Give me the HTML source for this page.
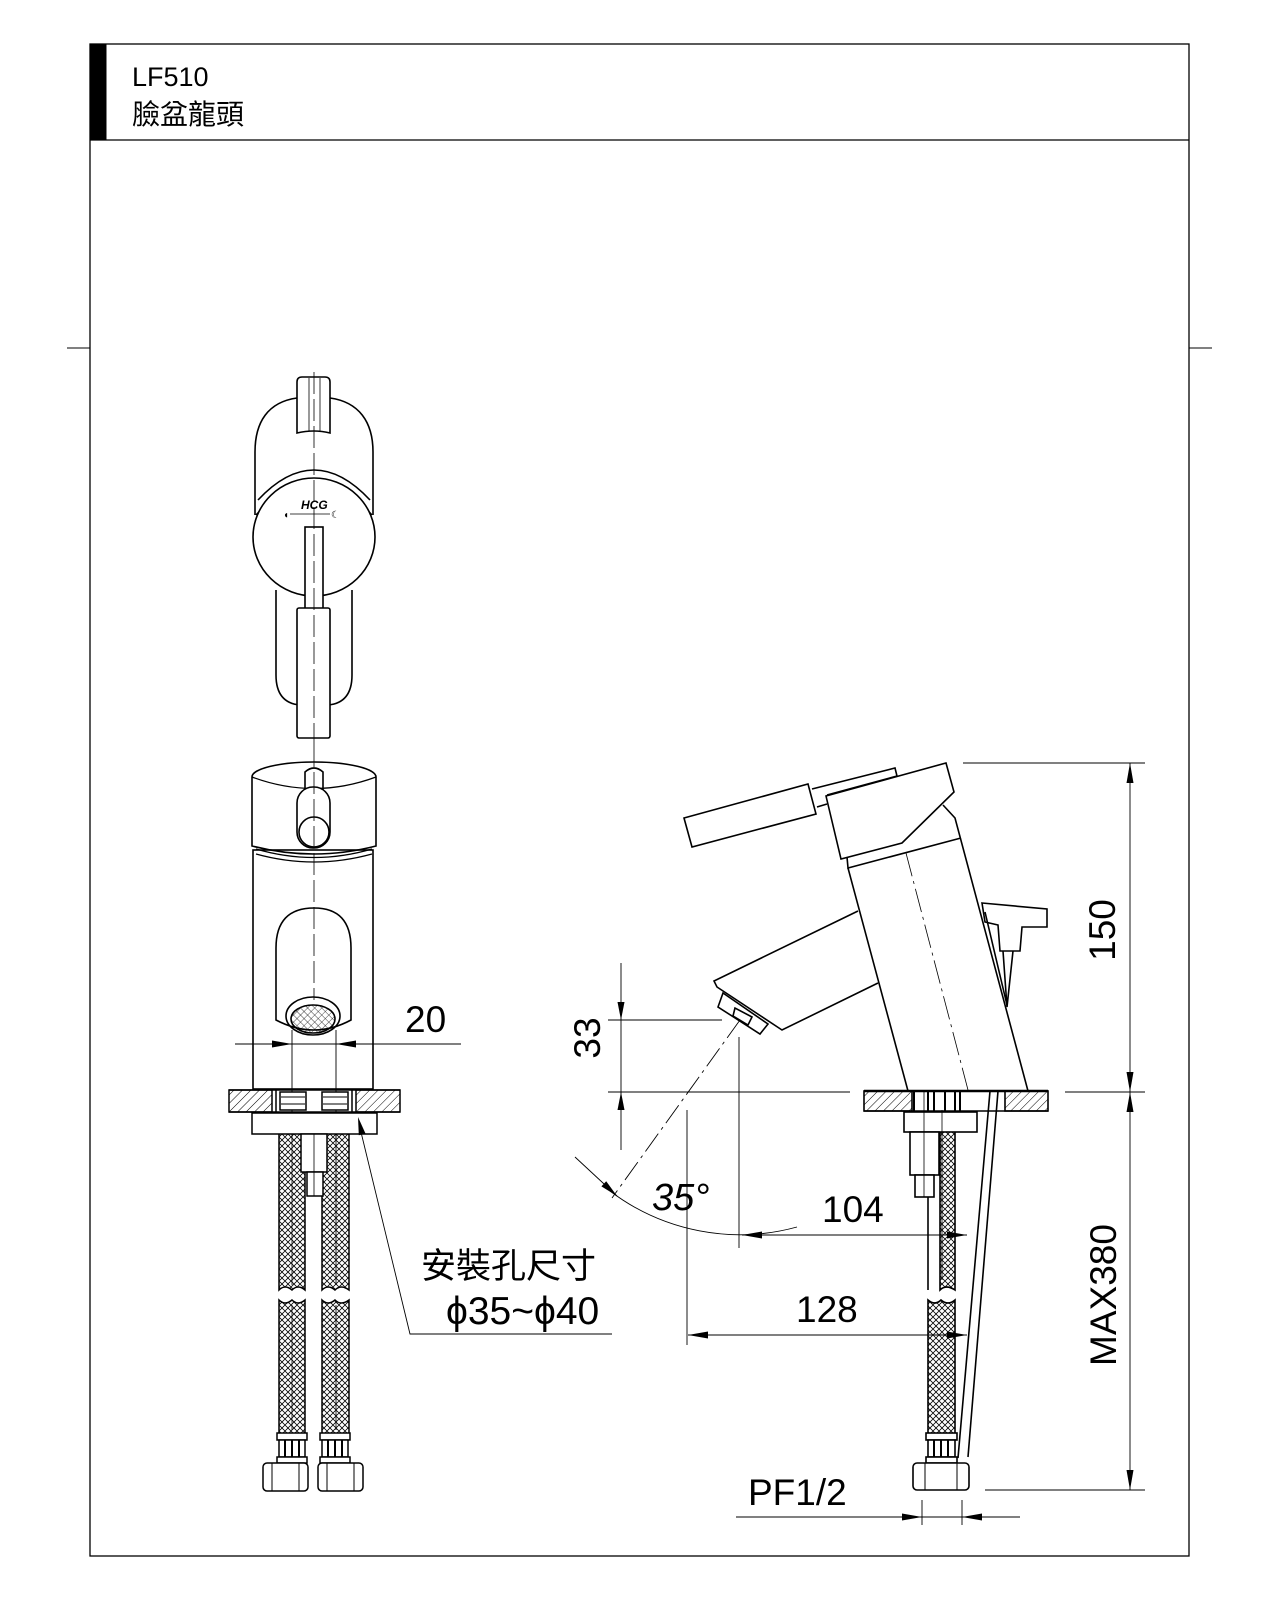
<!DOCTYPE html>
<html><head><meta charset="utf-8"><style>
html,body{margin:0;padding:0;background:#fff;}
svg{display:block;}
text{font-family:"Liberation Sans","Noto Sans CJK TC",sans-serif;fill:#000;}
</style></head><body>
<svg width="1280" height="1600" viewBox="0 0 1280 1600" xmlns="http://www.w3.org/2000/svg">
<defs>
<pattern id="hatch" patternUnits="userSpaceOnUse" width="6" height="6" patternTransform="rotate(45)">
<line x1="0" y1="0" x2="0" y2="6" stroke="#000" stroke-width="1"/></pattern>
<pattern id="cross" patternUnits="userSpaceOnUse" width="6" height="6">
<path d="M0,0 L3,3 L0,6 M6,0 L3,3 L6,6" stroke="#000" stroke-width="0.8" fill="none"/></pattern>
<pattern id="mesh" patternUnits="userSpaceOnUse" width="5" height="5" patternTransform="rotate(45)">
<path d="M0,0 L0,5 M0,0 L5,0" stroke="#000" stroke-width="0.7" fill="none"/></pattern>
</defs>
<g fill="none" stroke="#000">
<rect x="90" y="44" width="1099" height="1512" stroke-width="1.3"/>
<line x1="90" y1="140" x2="1189" y2="140" stroke-width="1.3"/>
<rect x="90" y="44" width="16" height="96" fill="#000"/>
<line x1="67" y1="348" x2="90" y2="348"/>
<line x1="1189" y1="348" x2="1212" y2="348"/>
</g>
<text x="132" y="86" font-size="27">LF510</text>
<text x="132" y="124" font-size="28">臉盆龍頭</text>

<!-- LEFT TOP VIEW -->
<g fill="none" stroke="#000" stroke-width="1.6">
<path d="M297,398 C268,402 255,422 255,452 L255,515"/>
<path d="M330,398 C359,402 373,422 373,452 L373,515"/>
<path d="M297,433 L297,382 Q297,377 302,377 L325,377 Q330,377 330,382 L330,433 Q314,429 297,433Z" fill="#fff"/>
<line x1="309" y1="378" x2="309" y2="431" stroke-width="0.8"/>
<line x1="320" y1="378" x2="320" y2="431" stroke-width="0.8"/>
<path d="M276,590 L276,675 Q276,703 300,705 M352,590 L352,675 Q352,703 328,705"/>
<path d="M258,500 Q314,440 370,500"/>
<path d="M256,515 Q314,452 372,515"/>
<ellipse cx="314" cy="537" rx="61" ry="59" fill="#fff"/>
<rect x="305" y="527" width="18" height="84" fill="#fff"/>
<rect x="297" y="608" width="33" height="130" rx="2" fill="#fff"/>
<line x1="290" y1="514" x2="330" y2="514" stroke-width="0.8"/>
<line x1="314" y1="372" x2="314" y2="745" stroke-width="0.8" stroke-dasharray="22,5"/>
</g>
<text x="301" y="509" font-size="12" font-style="italic" font-weight="bold">HCG</text>
<text x="283" y="518" font-size="10">◖</text><text x="331" y="518" font-size="10">☾</text>

<!-- LEFT FRONT VIEW -->
<g fill="none" stroke="#000" stroke-width="1.6">
<path d="M252,777 A62,15 0 0 1 376,777 L376,846 Q314,862 252,846 Z" fill="#fff"/>
<path d="M252,777 Q314,800 376,777" stroke-width="1.2"/>
<path d="M256,849 Q314,866 372,849 M256,854 Q314,870 372,854" stroke-width="1.2"/>
<rect x="253" y="850" width="120" height="239"/>
<path d="M305,792 L305,772 Q314,764 323,772 L323,792"/>
<rect x="297" y="787" width="33" height="61" rx="16" fill="#fff"/>
<circle cx="314" cy="832" r="15"/>
<path d="M276,1020 L276,948 Q276,908 314,908 Q351,908 351,948 L351,1020 Q314,1040 276,1020Z" fill="#fff"/>
<ellipse cx="313" cy="1016" rx="27" ry="19"/>
<ellipse cx="313" cy="1019" rx="22" ry="14" fill="url(#mesh)"/>
<line x1="314" y1="745" x2="314" y2="1000" stroke-width="0.8" stroke-dasharray="22,5"/>
</g>
<g stroke="#000" stroke-width="0.9" fill="none">
<line x1="292" y1="1030" x2="292" y2="1140"/>
<line x1="336" y1="1030" x2="336" y2="1140"/>
<line x1="235" y1="1044" x2="461" y2="1044"/>
</g>
<polygon points="292,1044 272,1040.5 272,1047.5" fill="#000"/>
<polygon points="336,1044 356,1040.5 356,1047.5" fill="#000"/>
<text x="405" y="1032" font-size="37">20</text>
<g stroke="#000" stroke-width="1.5">
<rect x="229" y="1090" width="43" height="22" fill="url(#hatch)"/>
<rect x="356" y="1090" width="44" height="22" fill="url(#hatch)"/>
<line x1="229" y1="1090" x2="400" y2="1090"/>
<line x1="229" y1="1112" x2="400" y2="1112"/>
<rect x="280" y="1092" width="26" height="18" fill="#fff"/>
<rect x="322" y="1092" width="26" height="18" fill="#fff"/>
<path d="M281,1097 H305 M281,1104 H305 M323,1097 H347 M323,1104 H347" stroke-width="1"/>
<line x1="276" y1="1090" x2="276" y2="1112"/>
<line x1="352" y1="1090" x2="352" y2="1112"/>
<rect x="252" y="1113" width="125" height="21" fill="#fff"/>
<path d="M279,1134 V1290 Q285,1284 292,1290 Q298,1284 305,1290 V1134" fill="url(#cross)"/>
<path d="M322,1134 V1290 Q328,1284 335,1290 Q341,1284 349,1290 V1134" fill="url(#cross)"/>
<path d="M279,1433 V1300 Q285,1306 292,1300 Q298,1306 305,1300 V1433" fill="url(#cross)"/>
<path d="M322,1433 V1300 Q328,1306 335,1300 Q341,1306 349,1300 V1433" fill="url(#cross)"/>
<rect x="301" y="1134" width="26" height="38" fill="#fff"/>
<rect x="307" y="1172" width="16" height="24" fill="#fff"/>
<line x1="314" y1="1134" x2="314" y2="1196" stroke-width="0.8"/>
<line x1="292" y1="1134" x2="292" y2="1285" stroke-width="0.8"/>
<line x1="336" y1="1134" x2="336" y2="1285" stroke-width="0.8"/>
<line x1="292" y1="1305" x2="292" y2="1430" stroke-width="0.8"/>
<line x1="336" y1="1305" x2="336" y2="1430" stroke-width="0.8"/>
<rect x="277" y="1433" width="30" height="7" fill="#fff"/>
<rect x="320" y="1433" width="30" height="7" fill="#fff"/>
<rect x="279" y="1440" width="26" height="17" fill="#fff"/>
<rect x="322" y="1440" width="26" height="17" fill="#fff"/>
<path d="M285,1440 V1457 M292,1440 V1457 M299,1440 V1457 M328,1440 V1457 M335,1440 V1457 M342,1440 V1457" stroke-width="2"/>
<rect x="277" y="1457" width="30" height="6" fill="#fff"/>
<rect x="320" y="1457" width="30" height="6" fill="#fff"/>
<rect x="263" y="1463" width="45" height="28" rx="4" fill="#fff"/>
<rect x="318" y="1463" width="45" height="28" rx="4" fill="#fff"/>
<path d="M272,1463 V1491 M299,1463 V1491 M327,1463 V1491 M354,1463 V1491" stroke-width="1"/>
</g>
<polyline points="360,1128 410,1334 612,1334" fill="none" stroke="#000" stroke-width="0.9"/>
<polygon points="358,1117 365.6,1133.7 358.8,1135.3" fill="#000"/>
<text x="421" y="1278" font-size="35">安裝孔尺寸</text>
<text x="446" y="1324" font-size="39">ϕ35~ϕ40</text>

<!-- SIDE VIEW -->
<g fill="none" stroke="#000" stroke-width="1.6">
<polygon points="684,818 808,784 816,814 692,847" fill="#fff"/>
<polyline points="812,789 895,768 897,776 827,795"/>
<line x1="817" y1="807" x2="827" y2="804"/>
<polyline points="943,805 955,818 1028,1091"/>
<polyline points="848,868 908,1091"/>
<polyline points="847,857 848,868 961,838"/>
<polygon points="826,796 946,763 954,792 902,843 841,859" fill="#fff"/>
<polyline points="858,911 714,981 717,987 782,1030 878,983"/>
<polygon points="723,993 718,1007 760,1034 768,1024" fill="#fff"/>
<polygon points="735,1008 733,1016 748,1025 752,1017"/>
<line x1="906" y1="853" x2="968" y2="1090" stroke-width="0.8" stroke-dasharray="24,5,3,5"/>
<polygon points="982,903 1047,909 1047,927 1022,927 1020,951 1000,951 998,925 985,922" fill="#fff"/>
<line x1="985" y1="912" x2="1007" y2="1005"/>
<polyline points="1003,951 1007,1007 1013,951"/>
<rect x="864" y="1091" width="48" height="20" fill="url(#hatch)"/>
<rect x="1005" y="1091" width="43" height="20" fill="url(#hatch)"/>
<line x1="864" y1="1091" x2="1048" y2="1091" stroke-width="2.5"/>
<line x1="864" y1="1111" x2="1048" y2="1111"/>
<path d="M914,1091 V1111 M928,1091 V1111 M934,1091 V1111 M945,1091 V1111 M955,1091 V1111 M960,1091 V1111" stroke-width="2"/>
<rect x="904" y="1112" width="73" height="20" fill="#fff"/>
<path d="M940,1132 V1290 Q946,1284 955,1290 V1132" fill="url(#cross)"/>
<path d="M928,1433 V1300 Q935,1306 941,1300 Q948,1306 955,1300 V1433" fill="url(#cross)"/>
<line x1="928" y1="1175" x2="928" y2="1290"/>
<rect x="910" y="1132" width="29" height="43" fill="#fff"/>
<rect x="915" y="1175" width="19" height="22" fill="#fff"/>
<line x1="924" y1="1090" x2="924" y2="1197" stroke-width="0.8"/>
<line x1="942" y1="1110" x2="942" y2="1280" stroke-width="0.8"/>
<line x1="990" y1="1091" x2="958" y2="1458"/>
<line x1="998" y1="1091" x2="968" y2="1457"/>
<rect x="926" y="1433" width="31" height="7" fill="#fff"/>
<rect x="928" y="1440" width="27" height="17" fill="#fff"/>
<path d="M934,1440 V1457 M941,1440 V1457 M948,1440 V1457" stroke-width="2"/>
<rect x="926" y="1457" width="31" height="6" fill="#fff"/>
<rect x="913" y="1463" width="56" height="27" rx="4" fill="#fff"/>
<path d="M925,1463 V1490 M957,1463 V1490" stroke-width="1"/>
</g>
<g fill="none" stroke="#000" stroke-width="0.9">
<line x1="621" y1="963" x2="621" y2="1150"/>
<line x1="608" y1="1020" x2="722" y2="1020"/>
<line x1="608" y1="1092" x2="850" y2="1092"/>
<line x1="1065" y1="1092" x2="1145" y2="1092"/>
<line x1="963" y1="763" x2="1145" y2="763"/>
<line x1="1130" y1="763" x2="1130" y2="1490"/>
<line x1="985" y1="1490" x2="1145" y2="1490"/>
<line x1="740" y1="1020" x2="612" y2="1198" stroke-dasharray="22,5,3,5"/>
<line x1="575" y1="1157" x2="617" y2="1196"/>
<path d="M610,1191 A215,215 0 0 0 797,1227"/>
<line x1="739" y1="1037" x2="739" y2="1248"/>
<line x1="687" y1="1110" x2="687" y2="1345"/>
<line x1="742" y1="1235" x2="967" y2="1235"/>
<line x1="688" y1="1335" x2="967" y2="1335"/>
<line x1="736" y1="1517" x2="1020" y2="1517"/>
<line x1="922" y1="1500" x2="922" y2="1525"/>
<line x1="962" y1="1500" x2="962" y2="1525"/>
</g>
<g fill="#000">
<polygon points="621,1020 617.5,1002 624.5,1002"/>
<polygon points="621,1092 617.5,1110 624.5,1110"/>
<polygon points="1130,763 1126.5,783 1133.5,783"/>
<polygon points="1130,1092 1126.5,1072 1133.5,1072"/>
<polygon points="1130,1092 1126.5,1112 1133.5,1112"/>
<polygon points="1130,1490 1126.5,1470 1133.5,1470"/>
<polygon points="742,1235 762,1231.5 762,1238.5"/>
<polygon points="967,1235 947,1231.5 947,1238.5"/>
<polygon points="688,1335 708,1331.5 708,1338.5"/>
<polygon points="967,1335 947,1331.5 947,1338.5"/>
<polygon points="617,1196 601.4,1186.4 606.2,1181.2"/>
<polygon points="922,1517 902,1513.5 902,1520.5"/>
<polygon points="962,1517 982,1513.5 982,1520.5"/>
</g>
<text transform="translate(600,1038) rotate(-90)" font-size="37" text-anchor="middle">33</text>
<text transform="translate(1115,930) rotate(-90)" font-size="37" text-anchor="middle">150</text>
<text transform="translate(1116,1295) rotate(-90)" font-size="37" text-anchor="middle">MAX380</text>
<text x="652" y="1210" font-size="38" font-style="italic">35°</text>
<text x="822" y="1222" font-size="37">104</text>
<text x="796" y="1322" font-size="37">128</text>
<text x="748" y="1505" font-size="37">PF1/2</text>
</svg>
</body></html>
